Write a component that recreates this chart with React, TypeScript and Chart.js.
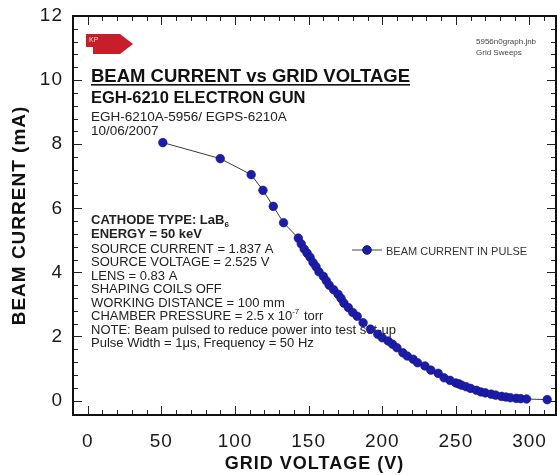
import React, { useEffect, useRef } from "react";
import { Chart, registerables } from "chart.js";
Chart.register(...registerables);

// ---------- data ----------
const gridVoltage = [51, 90, 111, 119, 126, 133, 143, 145, 147, 149, 151, 153, 155, 157, 160, 162, 164, 167, 170, 172, 174, 177, 180, 183, 187, 192, 197, 200, 204, 207, 210, 214, 217, 221, 224, 229, 233, 238, 242, 246, 250, 252, 254, 257, 260, 264, 267, 270, 274, 277, 281, 284, 287, 291, 294, 298, 312];
const beamCurrent = [8.05, 7.55, 7.05, 6.56, 6.06, 5.55, 5.07, 4.89, 4.73, 4.6, 4.47, 4.31, 4.18, 4.02, 3.88, 3.74, 3.6, 3.46, 3.32, 3.19, 3.04, 2.9, 2.75, 2.63, 2.43, 2.23, 2.07, 1.96, 1.86, 1.76, 1.65, 1.49, 1.39, 1.29, 1.18, 1.08, 0.95, 0.85, 0.71, 0.63, 0.55, 0.52, 0.48, 0.43, 0.38, 0.32, 0.27, 0.24, 0.2, 0.17, 0.13, 0.11, 0.09, 0.07, 0.06, 0.05, 0.03];
const xTickLabels = [0, 50, 100, 150, 200, 250, 300];
const yTickLabels = [0, 2, 4, 6, 8, 10, 12];
const seriesName = "BEAM CURRENT IN PULSE";
const xTitle = "GRID VOLTAGE (V)";
const yTitle = "BEAM CURRENT (mA)";
const chartTitle = "BEAM CURRENT vs GRID VOLTAGE";
const subTitle = "EGH-6210 ELECTRON GUN";
const headerLines = ["EGH-6210A-5956/ EGPS-6210A", "10/06/2007"];
const fileLines = ["5956n0graph.jnb", "Grid Sweeps"];
type Seg = [string, "n" | "sub" | "sup"];
const infoLines: { bold: boolean; segs: Seg[] }[] = [
  { bold: true, segs: [["CATHODE TYPE: LaB", "n"], ["6", "sub"]] },
  { bold: true, segs: [["ENERGY = 50 keV", "n"]] },
  { bold: false, segs: [["SOURCE CURRENT = 1.837 A", "n"]] },
  { bold: false, segs: [["SOURCE VOLTAGE = 2.525 V", "n"]] },
  { bold: false, segs: [["LENS = 0.83 A", "n"]] },
  { bold: false, segs: [["SHAPING COILS OFF", "n"]] },
  { bold: false, segs: [["WORKING DISTANCE = 100 mm", "n"]] },
  { bold: false, segs: [["CHAMBER PRESSURE = 2.5 x 10", "n"], ["-7", "sup"], [" torr", "n"]] },
  { bold: false, segs: [["NOTE: Beam pulsed to reduce power into test set-up", "n"]] },
  { bold: false, segs: [["Pulse Width = 1\u03bcs, Frequency = 50 Hz", "n"]] },
];

const FF = '"Liberation Sans", Arial, Helvetica, sans-serif';
const MARKER = "#1c1caa";
const MARKER_EDGE = "#12127a";

const decor = {
  id: "decor",
  beforeDraw(chart: any) {
    chart.ctx.letterSpacing = "1px";
  },
  beforeDatasetsDraw(chart: any) {
    const { ctx, chartArea: a, scales } = chart;
    const x = scales.x;
    const y = scales.y;
    ctx.save();
    ctx.letterSpacing = "0px";
    ctx.strokeStyle = "#222";
    ctx.lineWidth = 1;
    const line = (x1: number, y1: number, x2: number, y2: number) => {
      ctx.beginPath();
      ctx.moveTo(x1, y1);
      ctx.lineTo(x2, y2);
      ctx.stroke();
    };
    for (let v = 0; v < x.max; v += 10) {
      const px = Math.round(x.getPixelForValue(v)) + 0.5;
      const L = v % 50 === 0 ? 9 : 5;
      line(px, a.bottom, px, a.bottom - L);
      line(px, a.top, px, a.top + L);
    }
    for (let i = 1; i * 0.4 < y.max; i++) {
      const v = i * 0.4;
      const py = Math.round(y.getPixelForValue(v)) + 0.5;
      const L = i % 5 === 0 ? 9 : 5;
      line(a.left, py, a.left + L, py);
      line(a.right, py, a.right - L, py);
    }
    {
      const py = Math.round(y.getPixelForValue(0)) + 0.5;
      line(a.left, py, a.left + 9, py);
      line(a.right, py, a.right - 9, py);
    }
    ctx.lineWidth = 2;
    ctx.strokeStyle = "#111";
    ctx.strokeRect(a.left, a.top, a.right - a.left, a.bottom - a.top);

    // KP badge
    ctx.fillStyle = "#c81e2b";
    ctx.beginPath();
    ctx.moveTo(86, 34);
    ctx.lineTo(120, 34);
    ctx.lineTo(133, 44);
    ctx.lineTo(120, 54);
    ctx.lineTo(93, 54);
    ctx.lineTo(93, 47);
    ctx.lineTo(86, 47);
    ctx.closePath();
    ctx.fill();
    ctx.fillStyle = "#f4d6d6";
    ctx.font = `7px ${FF}`;
    ctx.fillText("KP", 89, 42);

    // file labels
    ctx.fillStyle = "#444";
    ctx.font = `8px ${FF}`;
    ctx.fillText(fileLines[0], 476, 44);
    ctx.fillText(fileLines[1], 476, 55);

    // titles
    ctx.fillStyle = "#111";
    ctx.font = `bold 18.5px ${FF}`;
    ctx.fillText(chartTitle, 91, 82);
    const tw = ctx.measureText(chartTitle).width;
    ctx.fillRect(91, 84, tw, 1.6);
    ctx.font = `bold 16.5px ${FF}`;
    ctx.fillText(subTitle, 91, 103);
    ctx.fillStyle = "#222";
    ctx.font = `13.5px ${FF}`;
    ctx.fillText(headerLines[0], 91, 121);
    ctx.fillText(headerLines[1], 91, 135);

    // info block
    infoLines.forEach((ln, i) => {
      const base = 224 + i * 13.5 + (i >= 2 ? 1.5 : 0);
      let cx = 91;
      ln.segs.forEach(([t, k]) => {
        const size = k === "n" ? 13 : 8;
        ctx.font = `${ln.bold ? "bold " : ""}${size}px ${FF}`;
        const dy = k === "sub" ? 3 : k === "sup" ? -6 : 0;
        ctx.fillText(t, cx, base + dy);
        cx += ctx.measureText(t).width + (k === "n" ? 0 : 1);
      });
    });

    // legend
    ctx.strokeStyle = "#444";
    ctx.lineWidth = 1;
    line(352, 250, 382, 250);
    ctx.fillStyle = MARKER;
    ctx.strokeStyle = MARKER_EDGE;
    ctx.beginPath();
    ctx.arc(367, 250, 4.3, 0, Math.PI * 2);
    ctx.fill();
    ctx.stroke();
    ctx.fillStyle = "#333";
    ctx.font = `11px ${FF}`;
    ctx.fillText(chart.data.datasets[0].label, 386, 254.5);
    ctx.restore();
  },
  afterDraw(chart: any) {
    chart.ctx.letterSpacing = "0px";
  },
};

export default function App() {
  const ref = useRef<HTMLCanvasElement | null>(null);
  useEffect(() => {
    if (!ref.current) return;
    const chart = new Chart(ref.current, {
      type: "scatter",
      data: {
        datasets: [
          {
            label: seriesName,
            data: gridVoltage.map((v, i) => ({ x: v, y: beamCurrent[i] })),
            showLine: true,
            borderColor: "#3a3a3a",
            borderWidth: 1,
            pointBackgroundColor: MARKER,
            pointBorderColor: MARKER_EDGE,
            pointBorderWidth: 0.6,
            pointRadius: 4.3,
          },
        ],
      },
      options: {
        animation: false,
        responsive: false,
        devicePixelRatio: 1,
        layout: { autoPadding: false, padding: { left: 0, top: 16, right: 1, bottom: 0 } },
        plugins: { legend: { display: false }, tooltip: { enabled: false } },
        scales: {
          x: {
            type: "linear",
            min: -10,
            max: 318,
            grid: { display: false, drawTicks: false },
            border: { display: false },
            afterBuildTicks: (s: any) => {
              s.ticks = xTickLabels.map((v) => ({ value: v }));
            },
            afterFit: (s: any) => {
              s.height = 60;
              s.paddingLeft = 0;
              s.paddingRight = 0;
            },
            ticks: {
              color: "#1a1a1a",
              font: { family: FF, size: 19 },
              padding: 15,
              maxRotation: 0,
              callback: (v: any) => String(v),
            },
            title: {
              display: true,
              text: xTitle,
              color: "#111",
              font: { family: FF, size: 18, weight: "bold" },
              padding: { top: 2, bottom: 0 },
            },
          },
          y: {
            type: "linear",
            min: -0.45,
            max: 12,
            grid: { display: false, drawTicks: false },
            border: { display: false },
            afterBuildTicks: (s: any) => {
              s.ticks = yTickLabels.map((v) => ({ value: v }));
            },
            afterFit: (s: any) => {
              s.width = 73;
              s.paddingTop = 0;
              s.paddingBottom = 0;
            },
            ticks: {
              color: "#1a1a1a",
              font: { family: FF, size: 19 },
              padding: 10,
              callback: (v: any) => String(v),
            },
            title: {
              display: true,
              text: yTitle,
              color: "#111",
              font: { family: FF, size: 19, weight: "bold" },
              padding: { top: 8, bottom: 0 },
            },
          },
        },
      },
      plugins: [decor],
    });
    return () => chart.destroy();
  }, []);
  return (
    <div style={{ position: "absolute", left: 0, top: 0, width: 557, height: 475, background: "#fff" }}>
      <canvas ref={ref} width={557} height={475} />
    </div>
  );
}
